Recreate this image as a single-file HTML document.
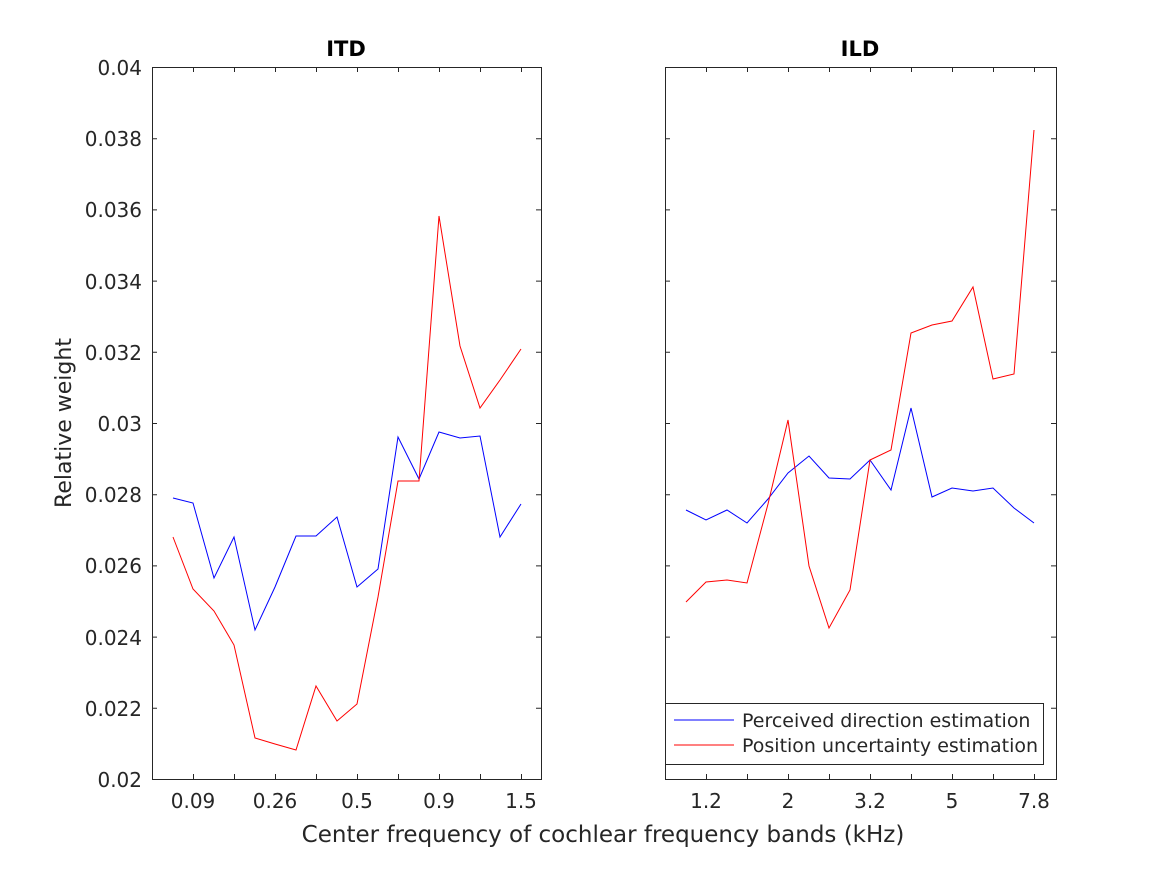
<!DOCTYPE html>
<html><head><meta charset="utf-8"><style>body{margin:0;background:#fff}svg{display:block}text{font-family:"DejaVu Sans","Liberation Sans",sans-serif;fill:#262626}</style></head><body>
<svg width="1167" height="875" viewBox="0 0 1167 875" xmlns="http://www.w3.org/2000/svg">
<rect width="1167" height="875" fill="#fff"/>
<g stroke="#262626" stroke-width="1" fill="none">
<rect x="152.5" y="67.5" width="389" height="712"/>
<rect x="665.5" y="67.5" width="391" height="712"/>
</g>
<g stroke="#262626" stroke-width="1">
<path d="M152 67.5h5M152 138.7h5M152 209.9h5M152 281.1h5M152 352.3h5M152 423.5h5M152 494.7h5M152 565.9h5M152 637.1h5M152 708.3h5M152 779.5h5"/>
<path d="M541 67.5h-5M541 138.7h-5M541 209.9h-5M541 281.1h-5M541 352.3h-5M541 423.5h-5M541 494.7h-5M541 565.9h-5M541 637.1h-5M541 708.3h-5M541 779.5h-5"/>
<path d="M665 67.5h5M665 138.7h5M665 209.9h5M665 281.1h5M665 352.3h5M665 423.5h5M665 494.7h5M665 565.9h5M665 637.1h5M665 708.3h5M665 779.5h5"/>
<path d="M1056 67.5h-5M1056 138.7h-5M1056 209.9h-5M1056 281.1h-5M1056 352.3h-5M1056 423.5h-5M1056 494.7h-5M1056 565.9h-5M1056 637.1h-5M1056 708.3h-5M1056 779.5h-5"/>
<path d="M193.5 779v-5M234.5 779v-5M275.5 779v-5M316.5 779v-5M357.5 779v-5M398.5 779v-5M439.5 779v-5M480.5 779v-5M521.5 779v-5M193.5 67v5M234.5 67v5M275.5 67v5M316.5 67v5M357.5 67v5M398.5 67v5M439.5 67v5M480.5 67v5M521.5 67v5"/>
<path d="M706.5 779v-5M747.5 779v-5M788.5 779v-5M829.5 779v-5M870.5 779v-5M911.5 779v-5M952.5 779v-5M993.5 779v-5M1034.5 779v-5M706.5 67v5M747.5 67v5M788.5 67v5M829.5 67v5M870.5 67v5M911.5 67v5M952.5 67v5M993.5 67v5M1034.5 67v5"/>
</g>
<g font-size="20" text-anchor="end">
<text x="142" y="75">0.04</text><text x="142" y="146">0.038</text><text x="142" y="217">0.036</text><text x="142" y="289">0.034</text><text x="142" y="360">0.032</text><text x="142" y="431">0.03</text><text x="142" y="502">0.028</text><text x="142" y="573">0.026</text><text x="142" y="645">0.024</text><text x="142" y="716">0.022</text><text x="142" y="787">0.02</text>
</g>
<g font-size="20" text-anchor="middle">
<text x="193" y="808">0.09</text><text x="275" y="808">0.26</text><text x="357" y="808">0.5</text><text x="439" y="808">0.9</text><text x="521" y="808">1.5</text>
<text x="706" y="808">1.2</text><text x="788" y="808">2</text><text x="870" y="808">3.2</text><text x="952" y="808">5</text><text x="1034" y="808">7.8</text>
<text x="603" y="842" font-size="23">Center frequency of cochlear frequency bands (kHz)</text>
<text x="346" y="56" font-weight="bold" font-size="21" style="fill:#000">ITD</text>
<text x="860" y="56" font-weight="bold" font-size="21" style="fill:#000">ILD</text>
<text transform="translate(71,423) rotate(-90)" font-size="22">Relative weight</text>
</g>
<g fill="none" stroke-width="1">
<polyline stroke="#00f" points="173,498 193,503 214,578 234,537 255,630 275,587 296,536 316,536 337,517 357,587 378,569 398,437 419,479 439,432 460,438 480,436 500,537 521,504"/>
<polyline stroke="#f00" points="173,537 193,589 214,611 234,645 255,738 275,744 296,750 316,686 337,721 357,704 378,597 398,481 419,481 439,216 460,346 480,408 500,380 521,349"/>
<polyline stroke="#00f" points="686,510 706,520 727,510 747,523 768,499 788,473 809,456 829,478 850,479 870,460 891,490 911,408 932,497 952,488 973,491 993,488 1014,508 1034,523"/>
<polyline stroke="#f00" points="686,602 706,582 727,580 747,583 768,504 788,420 809,566 829,628 850,590 870,460 891,450 911,333 932,325 952,321 973,287 993,379 1014,374 1034,130"/>
</g>
<rect x="665.5" y="703.5" width="378" height="61" fill="#fff" stroke="#262626"/>
<line x1="674" y1="720" x2="734" y2="720" stroke="#00f"/>
<line x1="674" y1="745" x2="734" y2="745" stroke="#f00"/>
<g font-size="19"><text x="742" y="727">Perceived direction estimation</text><text x="742" y="752">Position uncertainty estimation</text></g>
</svg>
</body></html>
